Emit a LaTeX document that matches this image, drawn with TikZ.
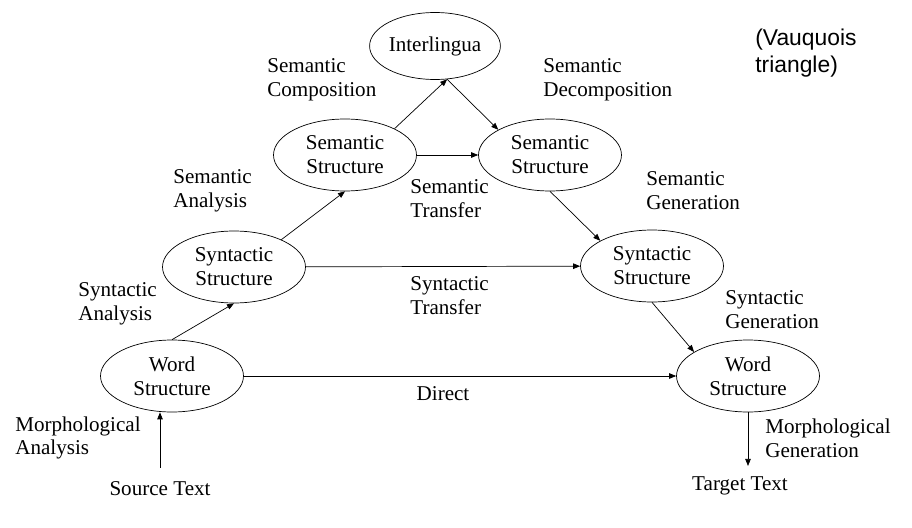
\documentclass[tikz,border=0pt]{standalone}
\usepackage{fontspec}
\setmainfont{Liberation Serif}
\newfontfamily\captfont{Liberation Sans}
\usetikzlibrary{arrows.meta, positioning, shapes.geometric}
\tikzset{
    stage/.style={ellipse, draw=black, thin, fill=white, inner sep=0pt, minimum width=2.86cm, minimum height=1.44cm, align=center, font=\fontsize{12}{13.6}\selectfont},
    lbl/.style={inner sep=0pt, align=left, anchor=west, font=\fontsize{12}{13.6}\selectfont},
    endtext/.style={inner xsep=1pt, font=\fontsize{12}{13.6}\selectfont},
    arrow/.style={-{Triangle[length=1.4mm, width=1.1mm]}, thin, draw=black}
}

\begin{document}
\begin{tikzpicture}[x=0.02cm, y=-0.02cm]
        \useasboundingbox (0,0) rectangle (912,527);
        % the triangle
        \node[stage, minimum width=2.4cm, minimum height=1.34cm] (inter) at (435,46) {Interlingua};
        \node[stage] (semL) at (345,155) {Semantic\\Structure};
        \node[stage] (semR) at (550,155) {Semantic\\Structure};
        \node[stage] (synL) at (234,267) {Syntactic\\Structure};
        \node[stage] (synR) at (652,266) {Syntactic\\Structure};
        \node[stage] (wordL) at (172,376) {Word\\Structure};
        \node[stage] (wordR) at (748,376) {Word\\Structure};
        \node[endtext, inner ysep=8pt] (src) at (160,489) {Source Text};
        \node[endtext, inner ysep=6pt] (tgt) at (740,486) {Target Text};
        % labels
        \node[lbl] (lcomp) at (267,80) {Semantic\\Composition};
        \node[lbl] (ldecomp) at (543,80) {Semantic\\Decomposition};
        \node[lbl] (lsema) at (173,191) {Semantic\\Analysis};
        \node[lbl] (lsemt) at (410,199) {Semantic\\Transfer};
        \node[lbl] (lsemg) at (646,191) {Semantic\\Generation};
        \node[lbl] (lsyna) at (78,304) {Syntactic\\Analysis};
        \node[lbl] (lsynt) at (410,296) {Syntactic\\Transfer};
        \node[lbl] (lsyng) at (725,310) {Syntactic\\Generation};
        \node[lbl, anchor=center] (ldirect) at (443,394) {Direct};
        \node[lbl] (lmorpha) at (15,438) {Morphological\\Analysis};
        \node[lbl] (lmorphg) at (765,438) {Morphological\\Generation};
        \node[inner sep=0pt, align=left, anchor=west, font=\captfont\fontsize{13}{15.3}\selectfont] (vq) at (755,53) {(Vauquois\\triangle)};
        % arrows
        \draw[arrow] (src) -- (src |- wordL.south);
        \draw[arrow] (wordL.north) -- (synL.south);
        \draw[arrow] (synL.30) -- (semL.south);
        \draw[arrow] (semL.28) -- (inter.-70);
        \draw[arrow] (inter.-70) -- (semR.154);
        \draw[arrow] (semL) -- (semR);
        \draw[arrow] (synL) -- (synR);
        \draw[arrow] (wordL) -- (wordR);
        \draw[arrow] (semR.south) -- (synR.154);
        \draw[arrow] (synR.south) -- (wordR.156);
        \draw[arrow] (wordR.south) -- (wordR.south |- tgt.north);
    \end{tikzpicture}
\end{document}
